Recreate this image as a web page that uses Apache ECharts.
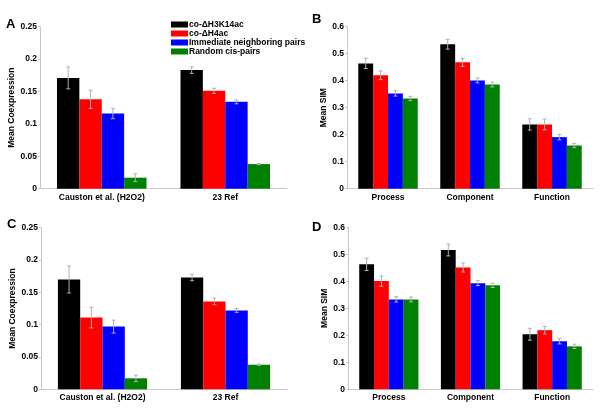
<!DOCTYPE html>
<html><head><meta charset="utf-8">
<script src="https://cdn.jsdelivr.net/npm/echarts@6/dist/echarts.min.js"></script>
<style>html,body{margin:0;padding:0;background:#fff}#c{width:600px;height:415px}</style>
</head><body><div id="c"></div>
<script>
// ---- data ----
const seriesNames = ['co-ΔH3K14ac', 'co-ΔH4ac', 'Immediate neighboring pairs', 'Random cis-pairs'];
const coexpCategories = ['Causton et al. (H2O2)', '23 Ref'];
const simCategories = ['Process', 'Component', 'Function'];
const coexpTicks = [0, 0.05, 0.1, 0.15, 0.2, 0.25];
const simTicks = [0, 0.1, 0.2, 0.3, 0.4, 0.5, 0.6];

// Panel A (Mean Coexpression)
const A_H3K14ac = [0.171, 0.183];
const A_H4ac = [0.138, 0.151];
const A_neighbor = [0.116, 0.134];
const A_random = [0.017, 0.038];
const A_H3K14ac_err = [0.017, 0.005];
const A_H4ac_err = [0.014, 0.004];
const A_neighbor_err = [0.008, 0.003];
const A_random_err = [0.006, 0.001];

// Panel B (Mean SIM)
const B_H3K14ac = [0.464, 0.535, 0.238];
const B_H4ac = [0.420, 0.468, 0.238];
const B_neighbor = [0.353, 0.401, 0.191];
const B_random = [0.334, 0.386, 0.160];
const B_H3K14ac_err = [0.019, 0.018, 0.021];
const B_H4ac_err = [0.016, 0.015, 0.020];
const B_neighbor_err = [0.010, 0.009, 0.010];
const B_random_err = [0.008, 0.009, 0.008];

// Panel C (Mean Coexpression)
const C_H3K14ac = [0.170, 0.173];
const C_H4ac = [0.111, 0.136];
const C_neighbor = [0.097, 0.122];
const C_random = [0.017, 0.038];
const C_H3K14ac_err = [0.021, 0.005];
const C_H4ac_err = [0.016, 0.005];
const C_neighbor_err = [0.010, 0.003];
const C_random_err = [0.005, 0.001];

// Panel D (Mean SIM)
const D_H3K14ac = [0.463, 0.516, 0.204];
const D_H4ac = [0.401, 0.451, 0.219];
const D_neighbor = [0.333, 0.393, 0.178];
const D_random = [0.333, 0.385, 0.159];
const D_H3K14ac_err = [0.023, 0.022, 0.022];
const D_H4ac_err = [0.019, 0.017, 0.014];
const D_neighbor_err = [0.010, 0.009, 0.010];
const D_random_err = [0.009, 0.008, 0.008];

// ---- styling ----
const colors = ['#000000', '#ff0000', '#0000ff', '#008000'];
const FONT = 'Liberation Sans, Arial, sans-serif';
const GAP = 0.275;

const panels = [
  {letter: 'A', cats: coexpCategories, ticks: coexpTicks, interval: 0.05, name: 'Mean Coexpression',
   vals: [A_H3K14ac, A_H4ac, A_neighbor, A_random], errs: [A_H3K14ac_err, A_H4ac_err, A_neighbor_err, A_random_err],
   grid: {left: 40, top: 26.7, width: 247, height: 162}, nameGap: 21, lx: 6, ly: 17.5},
  {letter: 'B', cats: simCategories, ticks: simTicks, interval: 0.1, name: 'Mean SIM',
   vals: [B_H3K14ac, B_H4ac, B_neighbor, B_random], errs: [B_H3K14ac_err, B_H4ac_err, B_neighbor_err, B_random_err],
   grid: {left: 347, top: 26.7, width: 246, height: 162}, nameGap: 18, lx: 312, ly: 13},
  {letter: 'C', cats: coexpCategories, ticks: coexpTicks, interval: 0.05, name: 'Mean Coexpression',
   vals: [C_H3K14ac, C_H4ac, C_neighbor, C_random], errs: [C_H3K14ac_err, C_H4ac_err, C_neighbor_err, C_random_err],
   grid: {left: 41, top: 227.7, width: 246, height: 161.6}, nameGap: 21, lx: 7, ly: 217.5},
  {letter: 'D', cats: simCategories, ticks: simTicks, interval: 0.1, name: 'Mean SIM',
   vals: [D_H3K14ac, D_H4ac, D_neighbor, D_random], errs: [D_H3K14ac_err, D_H4ac_err, D_neighbor_err, D_random_err],
   grid: {left: 348, top: 227.3, width: 245, height: 162}, nameGap: 18, lx: 312, ly: 220.5}
];

const option = {
  animation: false,
  backgroundColor: '#fff',
  textStyle: {fontFamily: FONT},
  title: panels.map(p => ({text: p.letter, left: p.lx, top: p.ly, padding: 0,
    textStyle: {fontFamily: FONT, fontWeight: 'bold', fontSize: 13, color: '#000'}})),
  legend: {
    data: seriesNames, orient: 'vertical', left: 171, top: 20,
    itemWidth: 17, itemHeight: 6, itemGap: 0, icon: 'rect', padding: 0,
    textStyle: {fontFamily: FONT, fontWeight: 'bold', fontSize: 8.5, color: '#000', lineHeight: 8.2, padding: [0, 0, 0, -4]}
  },
  grid: panels.map(p => Object.assign({containLabel: false}, p.grid)),
  xAxis: panels.map((p, i) => ({
    type: 'category', gridIndex: i, data: p.cats,
    axisLine: {lineStyle: {color: '#c8c8c8', width: 1}},
    axisTick: {show: false},
    axisLabel: {fontFamily: FONT, fontWeight: 'bold', fontSize: 8.5, color: '#000', margin: 4, interval: 0}
  })),
  yAxis: panels.map((p, i) => ({
    type: 'value', gridIndex: i, min: p.ticks[0], max: p.ticks[p.ticks.length - 1], interval: p.interval,
    name: p.name, nameLocation: 'middle', nameGap: p.nameGap,
    nameTextStyle: {fontFamily: FONT, fontWeight: 'bold', fontSize: 8.5, color: '#000'},
    axisLine: {show: true, lineStyle: {color: '#c8c8c8', width: 1}},
    axisTick: {show: true, length: 2, lineStyle: {color: '#c8c8c8'}},
    splitLine: {show: false},
    axisLabel: {fontFamily: FONT, fontWeight: 'bold', fontSize: 8.5, color: '#000', margin: 3,
      formatter: v => String(+v.toFixed(2))}
  })),
  series: []
};

panels.forEach((p, pi) => {
  p.vals.forEach((arr, si) => {
    option.series.push({
      type: 'bar', name: seriesNames[si], xAxisIndex: pi, yAxisIndex: pi,
      data: arr, barGap: '0%', barCategoryGap: (GAP * 100) + '%',
      itemStyle: {color: colors[si]}, z: 2
    });
  });
  const errData = [];
  p.vals.forEach((arr, si) => arr.forEach((v, ci) => errData.push([ci, si, v, p.errs[si][ci], v + p.errs[si][ci]])));
  option.series.push({
    type: 'custom', xAxisIndex: pi, yAxisIndex: pi, data: errData, z: 5, silent: true,
    encode: {x: 0, y: 4},
    renderItem: (params, api) => {
      const ci = api.value(0), si = api.value(1), v = api.value(2), e = api.value(3);
      const band = api.size([1, 0])[0];
      const barW = band * (1 - GAP) / 4;
      const xc = api.coord([ci, 0])[0] + (si - 1.5) * barW;
      const yt = api.coord([ci, v + e])[1];
      const yb = api.coord([ci, v - e])[1];
      const cap = 2;
      const st = {stroke: '#b0b0b0', lineWidth: 1};
      return {type: 'group', children: [
        {type: 'line', shape: {x1: xc, y1: yt, x2: xc, y2: yb}, style: st},
        {type: 'line', shape: {x1: xc - cap, y1: yt, x2: xc + cap, y2: yt}, style: st},
        {type: 'line', shape: {x1: xc - cap, y1: yb, x2: xc + cap, y2: yb}, style: st}
      ]};
    }
  });
});

const chart = echarts.init(document.getElementById('c'), null, {renderer: 'canvas'});
chart.setOption(option);
</script></body></html>
